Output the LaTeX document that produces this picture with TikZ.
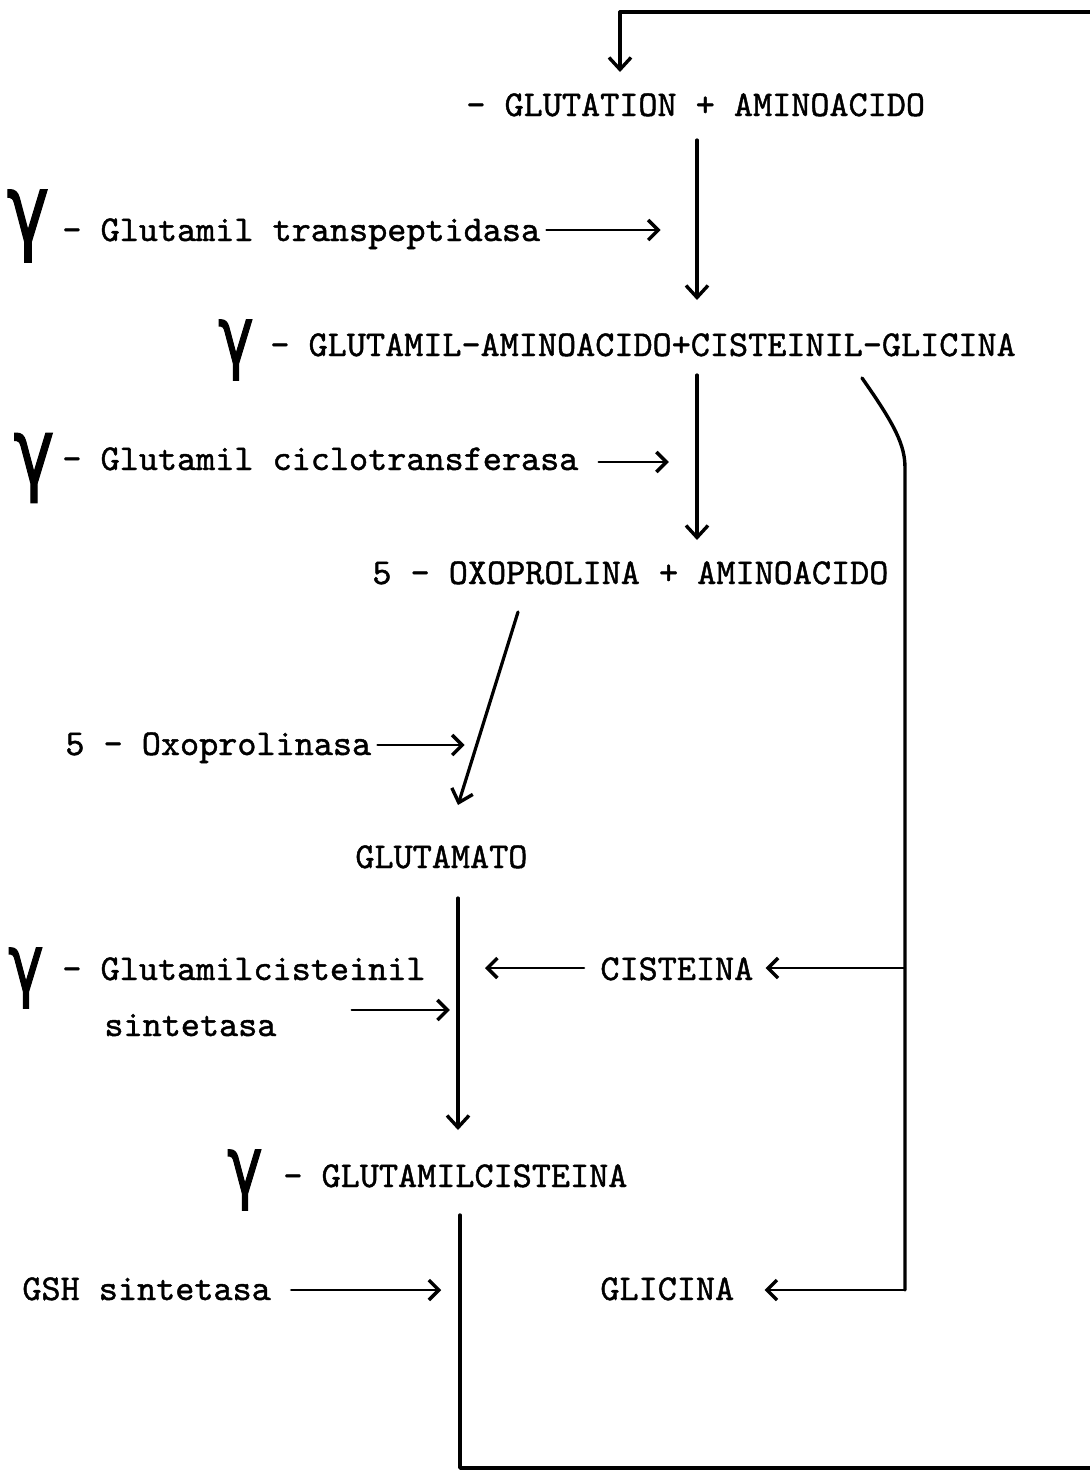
\documentclass[tikz,border=0pt]{standalone}
\usepackage{fontspec}
\usepackage{graphicx}
\newfontfamily\gfont{DejaVu Sans}[FakeBold=1.5]
\newfontfamily\tw{lmmono10-regular.otf}[FakeBold=1.2]
\usetikzlibrary{arrows.meta}
\newcommand{\hgam}{\scalebox{0.75}[1]{γ}}
\begin{document}
\begin{tikzpicture}[x=0.5pt,y=-0.5pt,
  lbl/.style={anchor=base west, inner sep=0pt, font=\fontsize{18.2}{20}\selectfont\tw},
  gam/.style={inner sep=0pt, font=\fontsize{#1}{#1}\selectfont\gfont},
  gam/.default=40,
  ln/.style={line width=1.7pt, line cap=round, line join=round},
  arr/.style={line width=1.6pt, line cap=round, -{Straight Barb[length=6pt,width=11pt,line width=1.7pt]}},
  harr/.style={line width=1.3pt, line cap=round, -{Straight Barb[length=5pt,width=10pt,line width=1.7pt]}}]
\useasboundingbox (0,0) rectangle (1090,1472);

% texts
\node[gam=48] (g1) at (28,226) {\hgam};
\node[lbl] (glutation) at (466,116) {- GLUTATION + AMINOACIDO};
\node[lbl] (transp) at (62,241) {- Glutamil transpeptidasa};
\node[gam=40] (g2) at (236,350) {\hgam};
\node[lbl] (glutam) at (270,356) {- GLUTAMIL-AMINOACIDO+CISTEINIL-GLICINA};
\node[gam=46] (g3) at (34,468) {\hgam};
\node[lbl] (ciclo) at (62,470) {- Glutamil ciclotransferasa};
\node[lbl] (oxo) at (372,584) {5 - OXOPROLINA + AMINOACIDO};
\node[lbl] (oxoasa) at (65,755) {5 - Oxoprolinasa};
\node[lbl] (glutamato) at (355,868) {GLUTAMATO};
\node[gam=40] (g4) at (26,978) {\hgam};
\node[lbl] (gcs) at (62,980) {- Glutamilcisteinil};
\node[lbl] (sint) at (104,1036) {sintetasa};
\node[lbl] (cist) at (600,980) {CISTEINA};
\node[gam=40] (g5) at (245,1180) {\hgam};
\node[lbl] (gcist) at (283,1187) {- GLUTAMILCISTEINA};
\node[lbl] (gsh) at (22,1300) {GSH sintetasa};
\node[lbl] (glic) at (600,1300) {GLICINA};

% coordinates
\coordinate (tr) at (1090,12);
\coordinate (tl) at (620,12);
\coordinate (ta) at (620,72);
\coordinate (m1a) at (697,140);
\coordinate (m1b) at (697,300);
\coordinate (m2a) at (697,375);
\coordinate (m2b) at (697,540);
\coordinate (d1) at (518,612);
\coordinate (d2) at (458,805);
\coordinate (v1a) at (458,898);
\coordinate (v1b) at (458,1130);
\coordinate (v2a) at (460,1215);
\coordinate (v2b) at (460,1468);
\coordinate (br) at (1090,1468);
\coordinate (c0) at (862,378);
\coordinate (c1) at (905,468);
\coordinate (rc) at (905,968);
\coordinate (rg) at (905,1290);

% main chain
\draw[ln] (tr) -- (tl);
\draw[arr] (tl) -- (ta);
\draw[arr] (m1a) -- (m1b);
\draw[arr] (m2a) -- (m2b);
\draw[arr] (d1) -- (d2);
\draw[arr] (v1a) -- (v1b);
\draw[ln] (v2a) -- (v2b) -- (br);

% enzyme arrows
\draw[harr] (transp.base east) ++(6,-11) -- ++(114,0);
\draw[harr] (ciclo.base east) ++(20,-8) -- ++(70,0);
\draw[harr] (oxoasa.base east) ++(6,-10) -- ++(87,0);
\draw[harr] (sint.base east) ++(75,-26) -- ++(98,0);
\draw[harr] (gsh.base east) ++(20,-10) -- ++(150,0);

% recycling branch
\draw[ln] (c0) .. controls (895,425) and (905,445) .. (c1) -- (rg);
\draw[harr] (rc) -- ([xshift=6pt]cist.east |- rc);
\draw[harr] (rg) -- ([xshift=15pt]glic.east |- rg);
\draw[harr] ([xshift=-8pt]cist.west |- rc) -- (485,968);
\end{tikzpicture}
\end{document}
